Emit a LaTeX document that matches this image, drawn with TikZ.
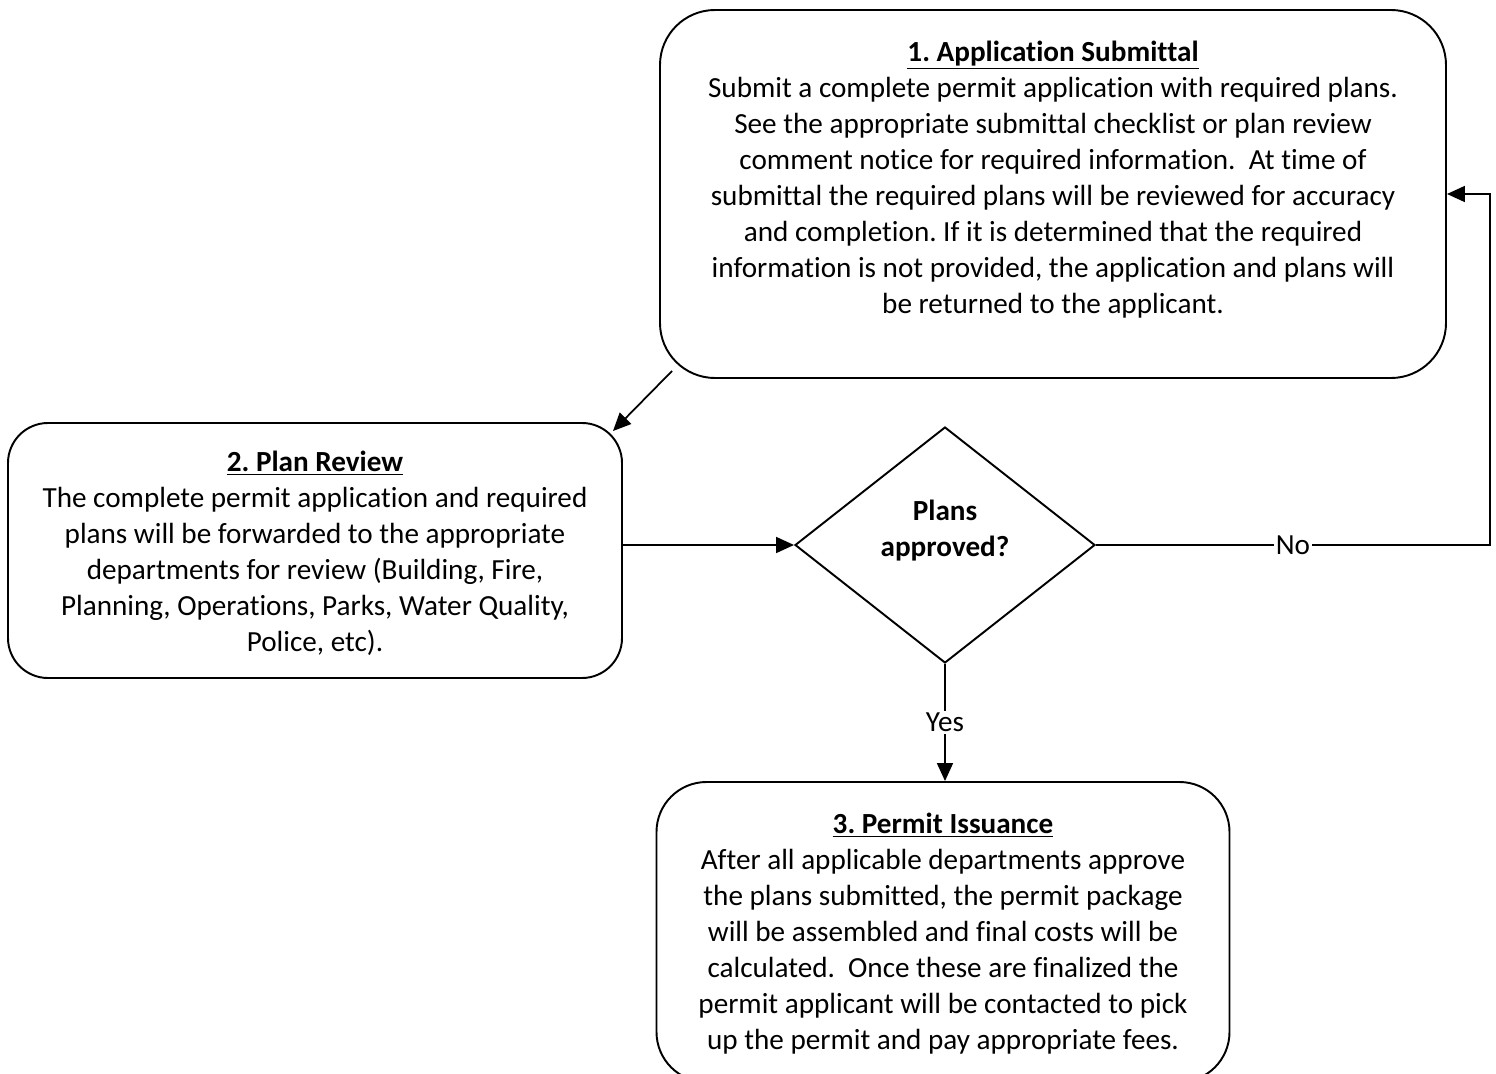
\documentclass[tikz,border=0pt]{standalone}
\usepackage{fontspec}
\setmainfont{Carlito}[Ligatures=NoCommon]
\usetikzlibrary{positioning,shapes.geometric,arrows.meta,calc}
\frenchspacing
\tikzset{
>={Triangle[length=3.6mm,width=3.2mm]},
  stepbox/.style={
    rectangle,
    rounded corners=1.1cm,
    draw=black, line width=1.1pt},
  steptext/.style={
    align=center,
    inner sep=0pt,
    font=\fontsize{16.6}{20.5}\selectfont},
  decision/.style={
    diamond,
    draw=black, line width=1.1pt,
    minimum width=6cm,
    minimum height=4.72cm,
    inner sep=0pt},
  line/.style={draw, line width=1pt, ->},
  answer/.style={midway, fill=white, inner sep=1pt,
    font=\fontsize{16.6}{20.5}\selectfont},
}
\newcommand{\steptitle}[1]{\textbf{\underline{#1}}}

\begin{document}
\begin{tikzpicture}

      \useasboundingbox (0,0) rectangle (29.92,-21.48);
      \clip (0,0) rectangle (29.92,-21.48);

      % the three steps
      \node[stepbox, minimum width=15.72cm, minimum height=7.36cm] (sub) at (21.06,-3.88) {};
      \node[steptext] (subtxt) at ([yshift=0.28cm]sub.center) {\steptitle{1. Application Submittal}\\
        Submit a complete permit application with required plans.\\
        See the appropriate submittal checklist or plan review\\
        comment notice for required information.\ \ At time of\\
        submittal the required plans will be reviewed for accuracy\\
        and completion. If it is determined that the required\\
        information is not provided, the application and plans will\\
        be returned to the applicant.};

      \node[stepbox, rounded corners=0.8cm, minimum width=12.28cm, minimum height=5.1cm] (rev) at (6.30,-11.01) {};
      \node[steptext] (revtxt) at ([yshift=-0.06cm]rev.center) {\steptitle{2. Plan Review}\\
        The complete permit application and required\\
        plans will be forwarded to the appropriate\\
        departments for review (Building, Fire,\\
        Planning, Operations, Parks, Water Quality,\\
        Police, etc).};

      \node[stepbox, rounded corners=1cm, minimum width=11.46cm, minimum height=6.0cm] (iss) at (18.86,-18.64) {};
      \node[steptext] (isstxt) at ([yshift=-0.03cm]iss.center) {\steptitle{3. Permit Issuance}\\
        After all applicable departments approve\\
        the plans submitted, the permit package\\
        will be assembled and final costs will be\\
        calculated.\ \ Once these are finalized the\\
        permit applicant will be contacted to pick\\
        up the permit and pay appropriate fees.};

      % decision
      \node[decision] (ok) at (18.9,-10.9) {};
      \node[steptext] (oktxt) at ([yshift=0.29cm]ok.center) {\textbf{Plans}\\ \textbf{approved?}};

      \coordinate (loop) at (29.8,-10.9);

      % connectors
      \draw[line] ([shift={(0.26,0.16)}]sub.south west) -- ([shift={(-0.2,-0.18)}]rev.north east);
      \draw[line] (rev.east |- ok.west) -- (ok.west);
      \draw[line] (ok.east) -- (loop) node[answer] {No} -- (loop |- sub.east) -- (sub.east);
      \draw[line] (ok.south) -- (ok.south |- iss.north) node[answer] {Yes};

    \end{tikzpicture}
\end{document}
